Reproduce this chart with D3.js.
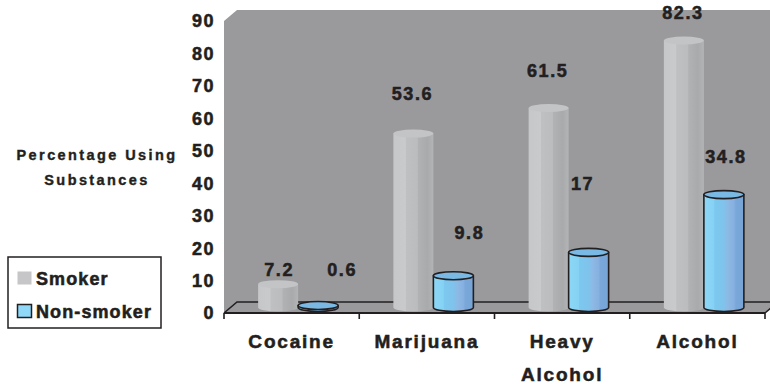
<!DOCTYPE html>
<html>
<head>
<meta charset="utf-8">
<script src="https://cdn.jsdelivr.net/npm/d3@7"></script>
<style>
  html, body { margin: 0; padding: 0; background: #fff; }
  svg { display: block; font-family: Arial, "Liberation Sans", sans-serif; font-weight: bold; }
  svg text { stroke: #231f20; stroke-width: 0.55px; }
</style>
</head>
<body>
<svg id="chart" width="770" height="384"></svg>
<script>
// data
const categories = ["Cocaine", "Marijuana", "Heavy Alcohol", "Alcohol"];
const smoker = [7.2, 53.6, 61.5, 82.3];
const nonSmoker = [0.6, 9.8, 17, 34.8];
const seriesNames = ["Smoker", "Non-smoker"];
const yTicks = [0, 10, 20, 30, 40, 50, 60, 70, 80, 90];
const axisTitle = ["Percentage Using", "Substances"];

// label placement as excel left it (px above bar top, px sideways)
const labelLift = { smoker: [15, 40, 37, 28], nonSmoker: [36, 43, 69, 38] };
const labelShift = { smoker: [1, -1, -1, -1], nonSmoker: [24, 16, -6, 2] };

const svg = d3.select("#chart");
const ink = "#231f20";
const wallColor = "#9a9a9d";

const x = d3.scaleBand().domain(categories).range([224, 765]);
const y = d3.scaleLinear().domain([0, 90]).range([313, 21]);
const depth = { dx: 13, dy: -11 };
const barW = 40, ry = 4;

// gradients for the cylinders
const defs = svg.append("defs");
function stripes(id, stops) {
    const g = defs.append("linearGradient").attr("id", id)
        .attr("x1", 0).attr("x2", 1).attr("y1", 0).attr("y2", 0);
    stops.forEach(s => g.append("stop").attr("offset", s[0]).attr("stop-color", s[1]));
}
stripes("gSmoker", [[0, "#c6c7c9"], [0.3, "#c9cacc"], [0.32, "#bfc0c2"], [0.6, "#bbbcbe"],
    [0.62, "#b1b2b4"], [0.85, "#a9aaac"], [1, "#b3b4b6"]]);
stripes("gNon", [[0, "#8cd7f7"], [0.25, "#86d2f4"], [0.27, "#7cc8ef"], [0.5, "#7fc3eb"],
    [0.6, "#8db9e5"], [0.75, "#86b0e0"], [0.8, "#79a7d9"], [1, "#78a4d6"]]);

// walls and floor
const x0 = x.range()[0], x1 = x.range()[1];
svg.append("polygon")
    .attr("points", [[x0, y(90)], [x0 + depth.dx, y(90) + depth.dy], [780, y(90) + depth.dy],
        [780, y(0) + depth.dy], [x1 + depth.dx, y(0) + depth.dy], [x1, y(0)], [x0, y(0)]].join(" "))
    .attr("fill", wallColor);

const floorLines = svg.append("g").attr("stroke", ink).attr("fill", "none");
floorLines.append("path")
    .attr("d", `M${x0},${y(0)}L${x0 + depth.dx},${y(0) + depth.dy}H780`)
    .attr("stroke-width", 1.6);
floorLines.append("path")
    .attr("d", `M${x1},${y(0)}L${x1 + depth.dx},${y(0) + depth.dy}`)
    .attr("stroke-width", 1.6);

// y axis labels
svg.append("g").selectAll("text")
    .data(yTicks)
    .join("text")
    .attr("x", 215)
    .attr("y", d => y(d))
    .attr("dy", "0.36em")
    .attr("text-anchor", "end")
    .attr("font-size", "18px")
    .attr("letter-spacing", "1.5px")
    .attr("fill", ink)
    .text(d => d);

// axis title
svg.append("g").selectAll("text")
    .data(axisTitle)
    .join("text")
    .attr("x", 97)
    .attr("y", (d, i) => 160 + i * 25)
    .attr("text-anchor", "middle")
    .attr("font-size", "14.5px")
    .attr("letter-spacing", "2.4px")
    .attr("fill", ink)
    .style("stroke-width", "0.4px")
    .text(d => d);

// cylinders
function cylinder(g, cx, v, fill, top, outline) {
    const yb = y(0) + depth.dy / 2;
    const yt = y(v) + depth.dy / 2;
    const l = cx - barW / 2, r = cx + barW / 2;
    g.append("path")
        .attr("d", `M${l},${yt}L${l},${yb}A${barW / 2},${ry} 0 0 0 ${r},${yb}L${r},${yt}Z`)
        .attr("fill", fill)
        .attr("stroke", outline ? ink : "none")
        .attr("stroke-width", 1.6)
        .attr("stroke-linejoin", "round");
    g.append("ellipse")
        .attr("cx", cx).attr("cy", yt).attr("rx", barW / 2).attr("ry", ry)
        .attr("fill", top)
        .attr("stroke", outline ? ink : "none")
        .attr("stroke-width", 1.6);
}

const bars = svg.append("g");
categories.forEach((c, i) => {
    const mid = x(c) + x.bandwidth() / 2 + depth.dx / 2;
    cylinder(bars, mid - barW / 2, smoker[i], "url(#gSmoker)", "#c3c4c6", false);
    cylinder(bars, mid + barW / 2, nonSmoker[i], "url(#gNon)", "#79b9e3", true);
});

// front edge and ticks
const axis = svg.append("g").attr("stroke", ink);
axis.append("line")
    .attr("x1", x0).attr("x2", x1).attr("y1", y(0)).attr("y2", y(0))
    .attr("stroke-width", 2.2);
axis.selectAll(".tick")
    .data(categories.map(c => x(c)).concat([x1]))
    .join("line")
    .attr("class", "tick")
    .attr("x1", d => d).attr("x2", d => d)
    .attr("y1", y(0)).attr("y2", y(0) + 6)
    .attr("stroke-width", 1.6);

// value labels
const labels = svg.append("g")
    .attr("font-size", "18px")
    .attr("letter-spacing", "1.6px")
    .attr("fill", ink)
    .attr("text-anchor", "middle");
categories.forEach((c, i) => {
    const mid = x(c) + x.bandwidth() / 2 + depth.dx / 2;
    labels.append("text")
        .attr("x", mid - barW / 2 + labelShift.smoker[i])
        .attr("y", y(smoker[i]) + depth.dy / 2 - labelLift.smoker[i])
        .attr("dy", "0.36em")
        .text(smoker[i]);
    labels.append("text")
        .attr("x", mid + barW / 2 + labelShift.nonSmoker[i])
        .attr("y", y(nonSmoker[i]) + depth.dy / 2 - labelLift.nonSmoker[i])
        .attr("dy", "0.36em")
        .text(nonSmoker[i]);
});

// category labels
svg.append("g").selectAll("text")
    .data(categories)
    .join("text")
    .attr("x", d => x(d) + x.bandwidth() / 2)
    .attr("y", 348)
    .attr("text-anchor", "middle")
    .attr("font-size", "19px")
    .attr("letter-spacing", "1.8px")
    .attr("fill", ink)
    .each(function (d) {
        const words = d.split(" ");
        d3.select(this).selectAll("tspan")
            .data(words)
            .join("tspan")
            .attr("x", x(d) + x.bandwidth() / 2)
            .attr("dy", (w, j) => j === 0 ? 0 : 33)
            .text(w => w);
    });

// legend
const legend = svg.append("g");
legend.append("rect")
    .attr("x", 8).attr("y", 257).attr("width", 153).attr("height", 71)
    .attr("fill", "#fff").attr("stroke", ink).attr("stroke-width", 1.5);
const legendFill = [
    { fill: "#c6c6c8", stroke: "none" },
    { fill: "#8fd8f8", stroke: ink }
];
seriesNames.forEach((s, i) => {
    legend.append("rect")
        .attr("x", 17.5).attr("y", 271.5 + i * 33).attr("width", 14).attr("height", 13)
        .attr("fill", legendFill[i].fill)
        .attr("stroke", legendFill[i].stroke)
        .attr("stroke-width", 1.5);
    legend.append("text")
        .attr("x", 36).attr("y", 285 + i * 33)
        .attr("font-size", "18px")
        .attr("letter-spacing", "1.1px")
        .attr("fill", ink)
        .text(s);
});
</script>
</body>
</html>
